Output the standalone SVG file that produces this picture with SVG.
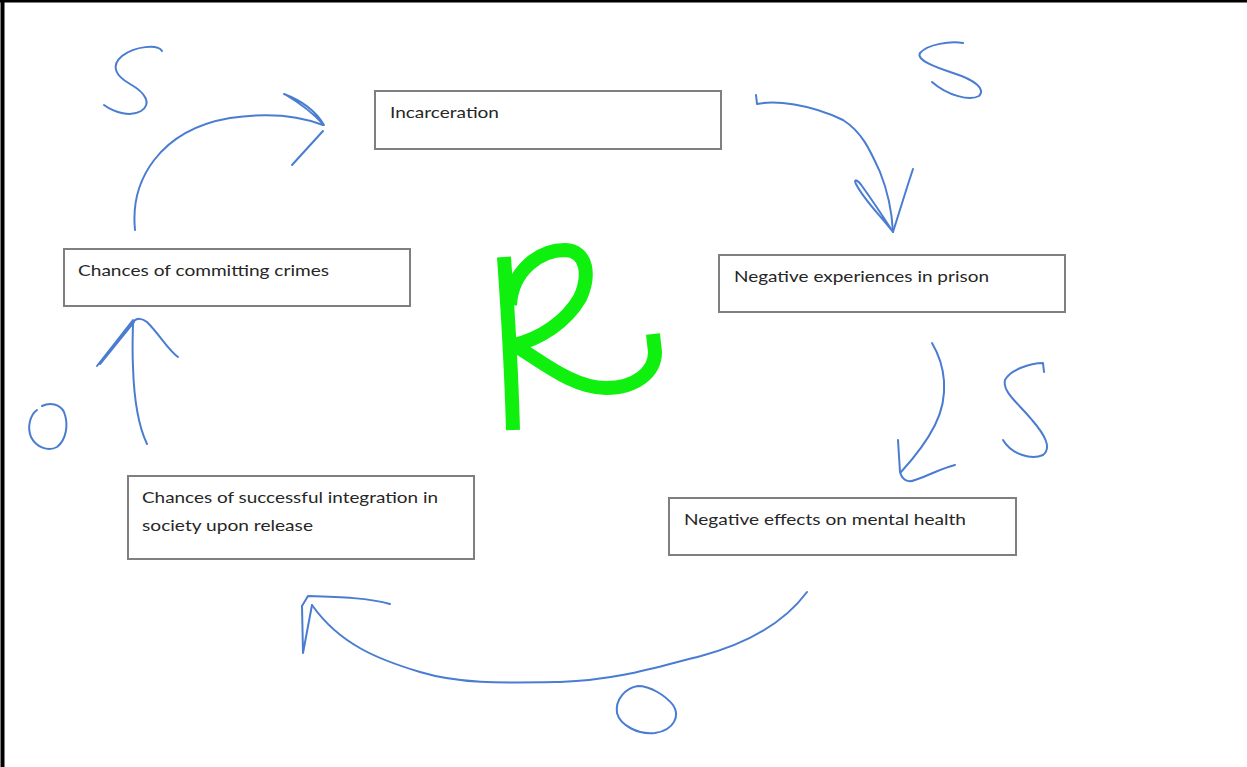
<svg xmlns="http://www.w3.org/2000/svg" width="1247" height="767" viewBox="0 0 1247 767">
  <style>
    .box { fill: #ffffff; stroke: #7f7f7f; stroke-width: 2; }
    .lbl { font-family: Lato, "Open Sans", "Liberation Sans", sans-serif; font-size: 16px; fill: #262626; }
    .ink { fill: none; stroke: #4a7dd1; stroke-width: 2; stroke-linecap: round; stroke-linejoin: round; }
    .rink { fill: none; stroke: #0ff00f; stroke-width: 14; stroke-linecap: butt; stroke-linejoin: round; }
  </style>
  <rect x="0" y="0" width="1247" height="767" fill="#ffffff"/>
  <!-- page border (top and left) -->
  <line x1="0" y1="1" x2="1247" y2="1" stroke="#000" stroke-width="3"/>
  <line x1="2.5" y1="0" x2="2.5" y2="767" stroke="#000" stroke-width="4"/>

  <g id="node-incarceration">
    <rect class="box" x="375" y="91" width="346" height="58"/>
    <text class="lbl" x="390" y="118" textLength="109" lengthAdjust="spacingAndGlyphs">Incarceration</text>
  </g>
  <g id="node-negative-experiences">
    <rect class="box" x="719" y="255" width="346" height="57"/>
    <text class="lbl" x="734" y="282" textLength="255" lengthAdjust="spacingAndGlyphs">Negative experiences in prison</text>
  </g>
  <g id="node-mental-health">
    <rect class="box" x="669" y="498" width="347" height="57"/>
    <text class="lbl" x="684" y="525" textLength="282" lengthAdjust="spacingAndGlyphs">Negative effects on mental health</text>
  </g>
  <g id="node-integration">
    <rect class="box" x="128" y="476" width="346" height="83"/>
    <text class="lbl" x="142" y="503" textLength="296" lengthAdjust="spacingAndGlyphs">Chances of successful integration in</text>
    <text class="lbl" x="142" y="531" textLength="171" lengthAdjust="spacingAndGlyphs">society upon release</text>
  </g>
  <g id="node-crimes">
    <rect class="box" x="64" y="249" width="346" height="57"/>
    <text class="lbl" x="78" y="276" textLength="251" lengthAdjust="spacingAndGlyphs">Chances of committing crimes</text>
  </g>

  <g id="connectors">
    <!-- crimes -> incarceration -->
    <path class="ink" d="M135,230 C130,180 160,130 230,118 C270,112 300,116 323,125"/>
    <path class="ink" d="M284,94 C300,100 315,110 324,125 C312,112 298,102 286,95"/>
    <path class="ink" d="M323,131 L292,165"/>
    <!-- incarceration -> negative experiences -->
    <path class="ink" d="M756,95 L757,104 C775,100 810,104 843,120 C862,132 870,150 880,172 C888,192 892,212 893,232"/>
    <path class="ink" d="M893,232 C880,215 864,200 856,184 C853,178 858,180 862,186 C872,200 884,218 893,232 C900,210 906,190 913,169"/>
    <!-- negative experiences -> mental health -->
    <path class="ink" d="M932,343 C945,365 950,395 935,425 C925,445 912,460 901,472"/>
    <path class="ink" d="M898,440 L900,472 C902,480 908,483 915,480 C930,475 942,468 955,465"/>
    <!-- mental health -> integration -->
    <path class="ink" d="M807,592 C790,615 760,640 701,656 C660,666 620,680 560,682 C500,683 460,684 420,672 C380,660 340,645 312,605"/>
    <path class="ink" d="M312,605 L303,653 L302,606 L308,596 C340,597 370,598 390,604"/>
    <!-- integration -> crimes -->
    <path class="ink" d="M147,444 C138,425 134,400 133,367 C132,345 133,330 133,322"/>
    <path class="ink" d="M97,366 L133,320 M100,364 L134,322"/>
    <path class="ink" d="M134,321 C137,318 142,318 147,322 C160,335 168,350 178,357"/>
  </g>

  <g id="polarity-marks">
    <!-- S near crimes -> incarceration -->
    <path class="ink" d="M162,51 C158,44 135,46 122,56 C110,66 116,76 130,84 C146,93 152,104 141,111 C131,117 115,113 104,105"/>
    <!-- S near incarceration -> negative experiences -->
    <path class="ink" d="M963,43 C950,41 928,44 920,53 C916,60 935,67 953,73 C975,80 986,89 979,96 C970,101 948,96 932,82"/>
    <!-- S near negative experiences -> mental health -->
    <path class="ink" d="M1044,372 L1043,363 C1030,363 1010,370 1005,380 C1002,392 1020,405 1032,420 C1045,435 1052,448 1043,455 C1032,460 1012,455 1003,440"/>
    <!-- O near mental health -> integration -->
    <path class="ink" d="M617,713 C615,700 625,688 638,686 C650,686 665,695 673,705 C680,715 675,730 655,733 C638,735 620,725 617,713"/>
    <!-- O near integration -> crimes -->
    <path class="ink" d="M42,406 C50,402 60,404 64,412 C69,425 66,440 57,447 C48,452 36,447 31,437 C27,427 30,415 37,410"/>
  </g>

  <g id="loop-label-R">
    <path class="rink" d="M504,257 C507,300 511,355 513,430"/>
    <path class="rink" d="M510,305 C512,270 540,250 565,250 C588,251 590,276 580,298 C566,322 540,339 514,345 C540,360 572,388 606,388 C636,388 655,372 655,352 L653,334"/>
  </g>
</svg>
